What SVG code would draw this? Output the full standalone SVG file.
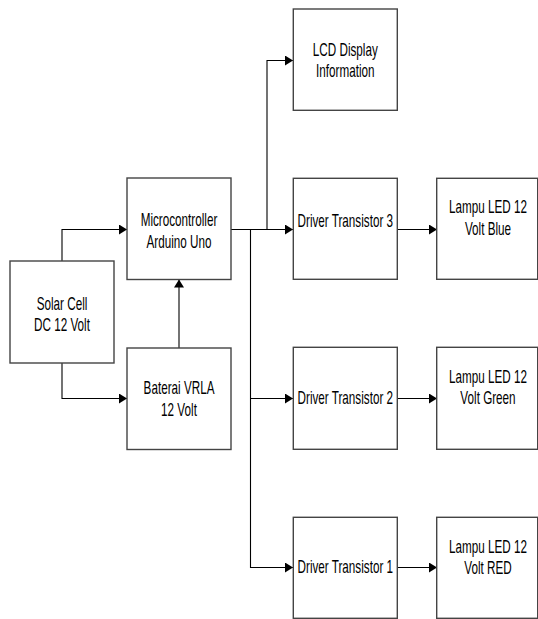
<svg xmlns="http://www.w3.org/2000/svg" width="538" height="619" viewBox="0 0 538 619">
<style>
.box{fill:#fff;stroke:#444;stroke-width:1.4}
.c{fill:none;stroke:#000;stroke-width:1.1}
.t{font-family:"Liberation Sans",Arial,sans-serif;font-size:18px;fill:#000;text-anchor:middle}
</style>
<defs>
<marker id="ah" markerUnits="userSpaceOnUse" markerWidth="9" markerHeight="11" refX="8" refY="5" orient="auto">
<path d="M0,0 L8,5 L0,10 Z" fill="#000"/>
</marker>
</defs>
<rect width="538" height="619" fill="#fff"/>
<g id="connectors">
<path class="c" d="M62,261 V229.5 H127" marker-end="url(#ah)"/>
<path class="c" d="M62,363 V398.5 H127" marker-end="url(#ah)"/>
<path class="c" d="M179,348 V279.5" marker-end="url(#ah)"/>
<path class="c" d="M231,229.5 H293" marker-end="url(#ah)"/>
<path class="c" d="M267,229.5 V60.5 H293" marker-end="url(#ah)"/>
<path class="c" d="M250.5,229.5 V567.5 H293" marker-end="url(#ah)"/>
<path class="c" d="M250.5,398.5 H293" marker-end="url(#ah)"/>
<path class="c" d="M397,229.5 H437" marker-end="url(#ah)"/>
<path class="c" d="M397,398.5 H437" marker-end="url(#ah)"/>
<path class="c" d="M397,567.5 H437" marker-end="url(#ah)"/>
</g>
<g id="solar">
<rect class="box" x="10" y="261" width="104" height="102"/>
<text class="t" transform="translate(62,310) scale(0.65,1)">Solar Cell</text>
<text class="t" transform="translate(62,330.5) scale(0.65,1)">DC 12 Volt</text>
</g>
<g id="micro">
<rect class="box" x="127" y="178" width="104" height="101.5"/>
<text class="t" transform="translate(179,226) scale(0.65,1)">Microcontroller</text>
<text class="t" transform="translate(179,247.5) scale(0.65,1)">Arduino Uno</text>
</g>
<g id="baterai">
<rect class="box" x="127" y="348" width="104" height="101.5"/>
<text class="t" transform="translate(179,394) scale(0.65,1)">Baterai VRLA</text>
<text class="t" transform="translate(179,415.5) scale(0.65,1)">12 Volt</text>
</g>
<g id="lcd">
<rect class="box" x="293.3" y="9" width="104" height="101.3"/>
<text class="t" transform="translate(345.3,55.5) scale(0.65,1)">LCD Display</text>
<text class="t" transform="translate(345.3,76.5) scale(0.65,1)">Information</text>
</g>
<g id="driver3">
<rect class="box" x="293.3" y="178.3" width="104" height="101"/>
<text class="t" transform="translate(345.3,227) scale(0.65,1)">Driver Transistor 3</text>
</g>
<g id="driver2">
<rect class="box" x="293.3" y="347.3" width="104" height="102"/>
<text class="t" transform="translate(345.3,403.5) scale(0.65,1)">Driver Transistor 2</text>
</g>
<g id="driver1">
<rect class="box" x="293.3" y="517.3" width="104" height="101"/>
<text class="t" transform="translate(345.3,573) scale(0.65,1)">Driver Transistor 1</text>
</g>
<g id="lampu-blue">
<rect class="box" x="436.7" y="178.3" width="101" height="101"/>
<text class="t" transform="translate(488,213) scale(0.65,1)">Lampu LED 12</text>
<text class="t" transform="translate(488,234.5) scale(0.65,1)">Volt Blue</text>
</g>
<g id="lampu-green">
<rect class="box" x="436.7" y="347.3" width="101" height="102"/>
<text class="t" transform="translate(488,383) scale(0.65,1)">Lampu LED 12</text>
<text class="t" transform="translate(488,404) scale(0.65,1)">Volt Green</text>
</g>
<g id="lampu-red">
<rect class="box" x="436.7" y="517.3" width="101" height="101"/>
<text class="t" transform="translate(488,552.5) scale(0.65,1)">Lampu LED 12</text>
<text class="t" transform="translate(488,574) scale(0.65,1)">Volt RED</text>
</g>
</svg>
